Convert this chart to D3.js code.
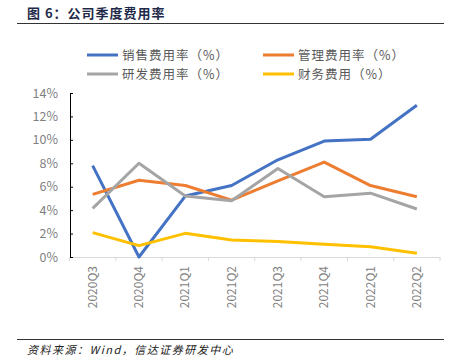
<!DOCTYPE html>
<html>
<head>
<meta charset="utf-8">
<script src="https://cdn.jsdelivr.net/npm/d3@7"></script>
<style>
  body { margin: 0; background: #fff; }
  text { font-family: "Noto Sans CJK SC", "DejaVu Sans", sans-serif; }
</style>
</head>
<body>
<svg id="chart"></svg>
<script>
const width = 457;
const height = 362;

// quarters and series (%)
const quarters = ["2020Q3", "2020Q4", "2021Q1", "2021Q2", "2021Q3", "2021Q4", "2022Q1", "2022Q2"];
const salesRate = [7.8, 0.0, 5.2, 6.1, 8.3, 9.9, 10.05, 12.95];
const adminRate = [5.35, 6.55, 6.1, 4.85, 6.5, 8.1, 6.1, 5.15];
const rdRate = [4.15, 8.0, 5.2, 4.8, 7.55, 5.15, 5.45, 4.1];
const financeRate = [2.08, 0.97, 2.02, 1.45, 1.32, 1.08, 0.88, 0.32];
const yTicks = [0, 2, 4, 6, 8, 10, 12, 14];

const series = [
  { name: "销售费用率（%）", values: salesRate, color: "#4472C4" },
  { name: "管理费用率（%）", values: adminRate, color: "#ED7D31" },
  { name: "研发费用率（%）", values: rdRate, color: "#A5A5A5" },
  { name: "财务费用（%）", values: financeRate, color: "#FFC000" }
];

const svg = d3.select("#chart")
  .attr("width", width)
  .attr("height", height);

// title + rules
svg.append("text")
  .attr("x", 27)
  .attr("y", 18)
  .attr("font-size", "13px")
  .attr("font-weight", "bold")
  .attr("fill", "#1f2a4a")
  .attr("letter-spacing", "1px")
  .text("图 6：公司季度费用率");

svg.append("line")
  .attr("x1", 17).attr("x2", 444)
  .attr("y1", 23.5).attr("y2", 23.5)
  .attr("stroke", "#333").attr("stroke-width", 1.2);

svg.append("line")
  .attr("x1", 17).attr("x2", 444)
  .attr("y1", 339.5).attr("y2", 339.5)
  .attr("stroke", "#333").attr("stroke-width", 1.2);

svg.append("text")
  .attr("x", 27)
  .attr("y", 354)
  .attr("font-size", "11px")
  .attr("font-style", "italic")
  .attr("letter-spacing", "1.5px")
  .attr("fill", "#222")
  .text("资料来源：Wind，信达证券研发中心");

// scales
const x = d3.scaleBand()
  .domain(quarters)
  .range([69.5, 440]);

const y = d3.scaleLinear()
  .domain([0, 14])
  .range([257, 93]);

// x axis
const xAxis = svg.append("g")
  .attr("transform", "translate(0,257)")
  .call(d3.axisBottom(x).tickSize(4).tickSizeOuter(0).tickFormat(""));
xAxis.select(".domain").attr("stroke", "#d9d9d9");
xAxis.selectAll(".tick line").attr("stroke", "#d9d9d9")
  .attr("transform", d => `translate(${-x.bandwidth() / 2},0)`);
// tick at the right end
xAxis.append("line")
  .attr("x1", 440).attr("x2", 440)
  .attr("y1", 0).attr("y2", 4)
  .attr("stroke", "#d9d9d9");

svg.append("g")
  .selectAll("text")
  .data(quarters)
  .enter()
  .append("text")
  .attr("transform", d => `translate(${x(d) + x.bandwidth() / 2 + 4},266) rotate(-90)`)
  .attr("text-anchor", "end")
  .attr("font-size", "12px")
  .attr("font-family", "Liberation Sans, Arial, sans-serif")
  .attr("fill", "#7f7f7f")
  .text(d => d);

// y axis
const yAxis = svg.append("g")
  .attr("transform", "translate(70,0)")
  .call(d3.axisRight(y).tickValues(yTicks).tickSize(3).tickSizeOuter(0).tickFormat(""));
yAxis.select(".domain").attr("stroke", "#000");
yAxis.selectAll(".tick line").attr("stroke", "#000");

svg.append("g")
  .selectAll("text")
  .data(yTicks)
  .enter()
  .append("text")
  .attr("x", 58)
  .attr("y", d => y(d) + 4.5)
  .attr("text-anchor", "end")
  .attr("font-size", "12.5px")
  .attr("font-family", "Liberation Sans, Arial, sans-serif")
  .attr("fill", "#7f7f7f")
  .text(d => d + "%");

// lines
const line = d3.line()
  .x((d, i) => x(quarters[i]) + x.bandwidth() / 2)
  .y(d => y(d));

svg.append("g")
  .selectAll("path")
  .data(series)
  .enter()
  .append("path")
  .attr("d", d => line(d.values))
  .attr("fill", "none")
  .attr("stroke", d => d.color)
  .attr("stroke-width", 3)
  .attr("stroke-linejoin", "round");

// legend
const legendPos = [[87, 55], [263, 55], [87, 74], [263, 74]];
const legend = svg.append("g")
  .selectAll("g")
  .data(series)
  .enter()
  .append("g")
  .attr("transform", (d, i) => `translate(${legendPos[i][0]},${legendPos[i][1]})`);

legend.append("line")
  .attr("x1", 0).attr("x2", 31)
  .attr("y1", 0).attr("y2", 0)
  .attr("stroke", d => d.color)
  .attr("stroke-width", 3);

legend.append("text")
  .attr("x", 35)
  .attr("y", 4.5)
  .attr("font-size", "12.5px")
  .attr("letter-spacing", "1px")
  .attr("fill", "#595959")
  .text(d => d.name);
</script>
</body>
</html>
